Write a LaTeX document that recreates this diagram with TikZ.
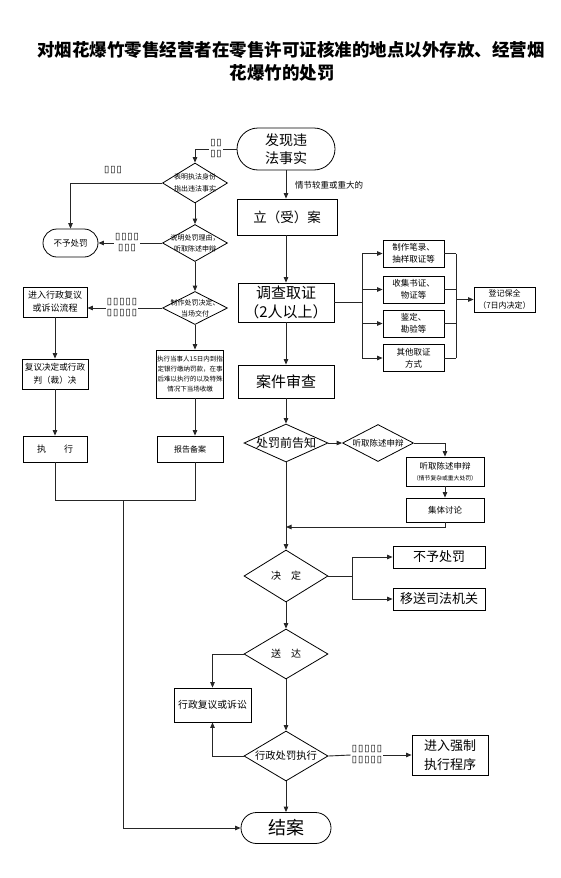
\documentclass[tikz,border=0pt]{standalone}
\usepackage{fontspec}
\setmainfont{Noto Sans CJK SC}
\newfontfamily\tofufont{DejaVu Sans}
\usetikzlibrary{shapes.geometric,arrows.meta}
\newcommand\fsz[2]{\fontsize{#1pt}{#2pt}\selectfont}
\newcommand\tofu{{\tofufont ▯}}
\newcommand\tfs{\tofu\hspace{1pt}}
\tikzset{
  ln/.style={draw=black!85, line width=0.9pt},
  arr/.style={ln, -{Triangle[length=5.5pt,width=4.5pt]}},
  box/.style={draw=black, line width=0.8pt, inner sep=1pt, align=center},
  stad/.style={box},
  dia/.style={draw=black, line width=0.8pt, diamond, inner sep=0pt},
  dtxt/.style={align=center, inner sep=0pt},
  title/.style={font=\fsz{17.5}{21}\bfseries, inner sep=0pt},
  tofun/.style={font=\fsz{9.5}{11}, align=center, inner sep=1pt},
  lbl/.style={font=\fsz{8.5}{10}, inner sep=0pt}
}
\begin{document}
\begin{tikzpicture}[x=1pt,y=-1pt]
\useasboundingbox (0,0) rectangle (560,878);
% title
\node[title] (t1) at (291,50) {对烟花爆竹零售经营者在零售许可证核准的地点以外存放、经营烟};
\node[title] (t2) at (282,73) {花爆竹的处罚};
% main column
\node[stad, minimum width=98, minimum height=42, rounded corners=21, font=\fsz{14}{18}] (start) at (286,149) {发现违\\法事实};
\node[box, minimum width=100, minimum height=36, font=\fsz{13.5}{16}] (lian) at (287,217) {立（受）案};
\node[lbl, anchor=west] (lab1) at (295,185) {情节较重或重大的};
\node[box, minimum width=96, minimum height=39, font=\fsz{15}{19}] (dc) at (286,302.5) {调查取证\\（2人以上）};
% branch boxes
\tikzset{bx/.style={box, minimum width=61, minimum height=27, font=\fsz{8.5}{12}}}
\node[bx] (b1) at (413.5,253.5) {制作笔录、\\抽样取证等};
\node[bx] (b2) at (413.5,289.5) {收集书证、\\物证等};
\node[bx] (b3) at (413.5,323.5) {鉴定、\\勘验等};
\node[bx] (b4) at (413.5,358) {其他取证\\方式};
\node[box, minimum width=61, minimum height=25, font=\fsz{8}{12}] (djbq) at (504.5,299.5) {登记保全\\（7日内决定）};
\coordinate (br) at (362,302.5);
\coordinate (br2) at (456,299.5);
\draw[ln] (dc.east) -- (br);
\draw[ln] (br |- b1) -- (br |- b4);
\foreach \b in {b1,b2,b3,b4}{
  \draw[arr] (br |- \b) -- (\b.west);
  \draw[ln] (\b.east) -- (br2 |- \b);
}
\draw[ln] (br2 |- b1) -- (br2 |- b4);
\draw[arr] (br2) -- (djbq.west);
\node[box, minimum width=96, minimum height=33, font=\fsz{15}{19}] (ajsc) at (286,381.5) {案件审查};
\node[dia, minimum width=84, minimum height=38, label={[dtxt, font=\fsz{12}{14}]center:处罚前告知}] (d4) at (286,443) {};
\node[dia, minimum width=71, minimum height=37, label={[dtxt, font=\fsz{8.5}{10}]center:听取陈述申辩}] (d5) at (378,443) {};
\node[box, minimum width=78, minimum height=29, font=\fsz{8.5}{12}] (tq) at (445,471.5) {听取陈述申辩\\[-1pt]{\fsz{5.8}{8}（情节复杂或重大处罚）}};
\node[box, minimum width=78, minimum height=24, font=\fsz{8.5}{12}] (jt) at (445,510) {集体讨论};
\coordinate (j1) at (286,527);
\node[dia, minimum width=84, minimum height=52, label={[dtxt, font=\fsz{10}{12}]center:决\hspace{1em}定}] (d6) at (286,576) {};
\coordinate (jr) at (352,576);
\node[box, minimum width=92, minimum height=22, font=\fsz{13}{15}] (by) at (439,557) {不予处罚};
\node[box, minimum width=92, minimum height=22, font=\fsz{13}{15}] (ys) at (439,599) {移送司法机关};
\node[dia, minimum width=84, minimum height=50, label={[dtxt, font=\fsz{10}{12}]center:送\hspace{1em}达}] (d7) at (286,654) {};
\node[box, minimum width=77, minimum height=34, font=\fsz{9.8}{12}] (fy) at (212.5,705) {行政复议或诉讼};
\node[dia, minimum width=84, minimum height=50, label={[dtxt, font=\fsz{10.3}{12}]center:行政处罚执行}] (d8) at (286,756) {};
\node[tofun] (tf5) at (367,755) {\tfs\tfs\tfs\tfs\tofu\\\tfs\tfs\tfs\tfs\tofu};
\node[box, minimum width=76, minimum height=40, font=\fsz{13}{19}] (qz) at (450,755) {进入强制\\执行程序};
\node[stad, minimum width=90, minimum height=31, rounded corners=15.5, font=\fsz{18}{20}] (ja) at (286,828) {结案};
% main arrows
\draw[arr] (start.south) -- (start.south |- lian.north);
\draw[arr] (lian.south -| dc.north) -- (dc.north);
\draw[arr] (dc.south) -- (ajsc.north);
\draw[arr] (ajsc.south) -- (d4.north);
\draw[arr] (d4.east) -- (d5.west);
\draw[arr] (d5.east) -| (tq.north);
\draw[arr] (tq.south) -- (jt.north);
\draw[arr] (jt.south) |- (j1);
\draw[arr] (d4.south) -- (d6.north);
\draw[ln] (d6.east) -- (jr);
\draw[arr] (jr) |- (by.west);
\draw[arr] (jr) |- (ys.west);
\draw[arr] (d6.south) -- (d7.north);
\draw[arr] (d7.west) -| (fy.north);
\draw[arr] (d7.south) -- (d8.north);
\draw[arr] (d8.west) -| (fy.south);
\draw[ln] (d8.east) -- (tf5.west);
\draw[arr] (tf5.east) -- (qz.west);
\draw[arr] (d8.south) -- (ja.north);
% left part
\node[dia, minimum width=65, minimum height=40, label={[dtxt, font=\fsz{7}{12}]center:表明执法身份\\指出违法事实}] (d1) at (195,183) {};
\node[dia, minimum width=65, minimum height=37, label={[dtxt, font=\fsz{7}{11}]center:说明处罚理由，\\听取陈述申辩}] (d2) at (195,243) {};
\node[dia, minimum width=65, minimum height=33, label={[dtxt, font=\fsz{7}{11}]center:制作处罚决定、\\当场交付}] (d3) at (195,308) {};
\node[tofun] (tf1) at (216,149) {\tfs\tofu\\\tfs\tofu};
\node[tofun] (tf2) at (113,170) {\tfs\tfs\tofu};
\node[tofun] (tf3) at (127,243) {\tfs\tfs\tfs\tofu\\\tfs\tfs\tofu};
\node[tofun] (tf4) at (122,308) {\tfs\tfs\tfs\tfs\tofu\\\tfs\tfs\tfs\tfs\tofu};
\node[stad, minimum width=55, minimum height=28, rounded corners=14, font=\fsz{8.5}{10}] (nb1) at (70.5,243) {不予处罚};
\node[box, minimum width=64, minimum height=30, font=\fsz{9}{13}] (zl) at (55,302) {进入行政复议\\或诉讼流程};
\node[box, minimum width=66, minimum height=30, font=\fsz{8.6}{13}] (fj) at (55,374) {复议决定或行政\\判（裁）决};
\node[box, minimum width=64, minimum height=26, font=\fsz{9}{12}] (zx) at (55,449) {执\hspace{2em}行};
\node[box, minimum width=66, minimum height=48, font=\fsz{6.5}{10}] (mb) at (190,374) {执行当事人15日内到指\\定银行缴纳罚款，在事\\后难以执行的以及特殊\\情况下当场收缴};
\node[box, minimum width=66, minimum height=26, font=\fsz{8}{10}] (bg) at (190,449) {报告备案};
\coordinate (yb) at (0,500);
\coordinate (yl) at (123,500);
\draw[ln] (start.west) -- (tf1.east);
\draw[arr] (tf1.west) -| (d1.north);
\draw[arr] (d1.west) -| (nb1.north);
\draw[arr] (d1.south) -- (d2.north);
\draw[ln] (d2.west) -- (tf3.east);
\draw[arr] (tf3.west) -- (nb1.east);
\draw[arr] (d2.south) -- (d3.north);
\draw[ln] (d3.west) -- (tf4.east);
\draw[arr] (tf4.west) -- (tf4.west -| zl.east);
\draw[arr] (d3.south) -- (d3.south |- mb.north);
\draw[arr] (d3.south |- mb.south) -- (d3.south |- bg.north);
\draw[arr] (zl.south) -- (fj.north);
\draw[arr] (fj.south) -- (zx.north);
\draw[ln] (zx.south) -- (zx.south |- yb) -- (d3.south |- yb) -- (d3.south |- bg.south);
\draw[arr] (yl) |- (ja.west);
\end{tikzpicture}
\end{document}
